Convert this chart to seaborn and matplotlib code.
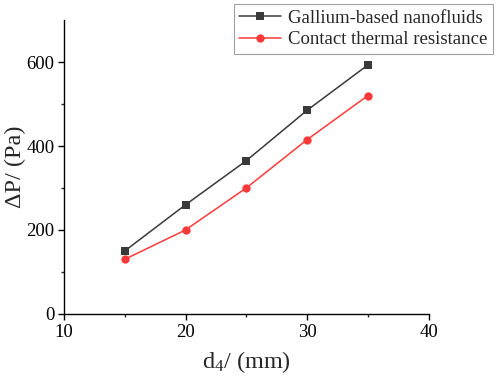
import matplotlib
matplotlib.use("Agg")
import matplotlib.pyplot as plt
import seaborn as sns
import pandas as pd

x_vals = [15, 20, 25, 30, 35]
gallium = [150, 260, 365, 485, 593]
contact = [130, 200, 300, 415, 520]
series_names = ["Gallium-based nanofluids", "Contact thermal resistance"]

sns.set_style("ticks")
plt.rcParams['font.family'] = ['Liberation Serif', 'DejaVu Serif']
plt.rcParams['mathtext.fontset'] = 'custom'
plt.rcParams['mathtext.rm'] = 'Liberation Serif'
plt.rcParams['mathtext.it'] = 'Liberation Serif'

df = pd.DataFrame({
    "x": x_vals * 2,
    "y": gallium + contact,
    "s": [series_names[0]] * len(x_vals) + [series_names[1]] * len(x_vals),
})

fig = plt.figure(figsize=(4.98, 3.80), dpi=100)
ax = fig.add_axes([0.1285, 0.174, 0.732, 0.773])
palette = {series_names[0]: "#3a3a3a", series_names[1]: "#fa3a3a"}
sns.lineplot(data=df, x="x", y="y", hue="s", style="s", palette=palette,
             markers={series_names[0]: "s", series_names[1]: "o"},
             dashes=False, markersize=6, markeredgewidth=0, linewidth=1.1, ax=ax)

ax.set_xlim(10, 40)
ax.set_ylim(0, 700)
ax.set_xticks([10, 20, 30, 40])
ax.set_xticks([15, 25, 35], minor=True)
ax.set_yticks([0, 200, 400, 600])
ax.set_yticks([100, 300, 500], minor=True)
ax.tick_params(axis='both', which='major', direction='out', length=4, width=1, labelsize=13.5, colors='black', pad=3)
ax.tick_params(axis='both', which='minor', direction='out', length=2.5, width=1)
for sp in ['top', 'right']:
    ax.spines[sp].set_visible(False)
for sp in ['left', 'bottom']:
    ax.spines[sp].set_linewidth(1)
    ax.spines[sp].set_color('black')

ax.set_xlabel(r"d$_{4}$/ (mm)", fontsize=17.5, labelpad=6)
ax.set_ylabel("ΔP/ (Pa)", fontsize=17.5, labelpad=0)

ax.get_legend().remove()
handles, labels = ax.get_legend_handles_labels()
leg = fig.legend(handles, labels, loc="upper right", bbox_to_anchor=(0.99, 0.99),
                 fontsize=13.5, frameon=True, fancybox=False, handlelength=2.2,
                 borderpad=0.3, labelspacing=0.25, handletextpad=0.4, borderaxespad=0)
leg.get_frame().set_edgecolor('#888888')
leg.get_frame().set_linewidth(0.8)

fig.savefig("out.png", dpi=100)
